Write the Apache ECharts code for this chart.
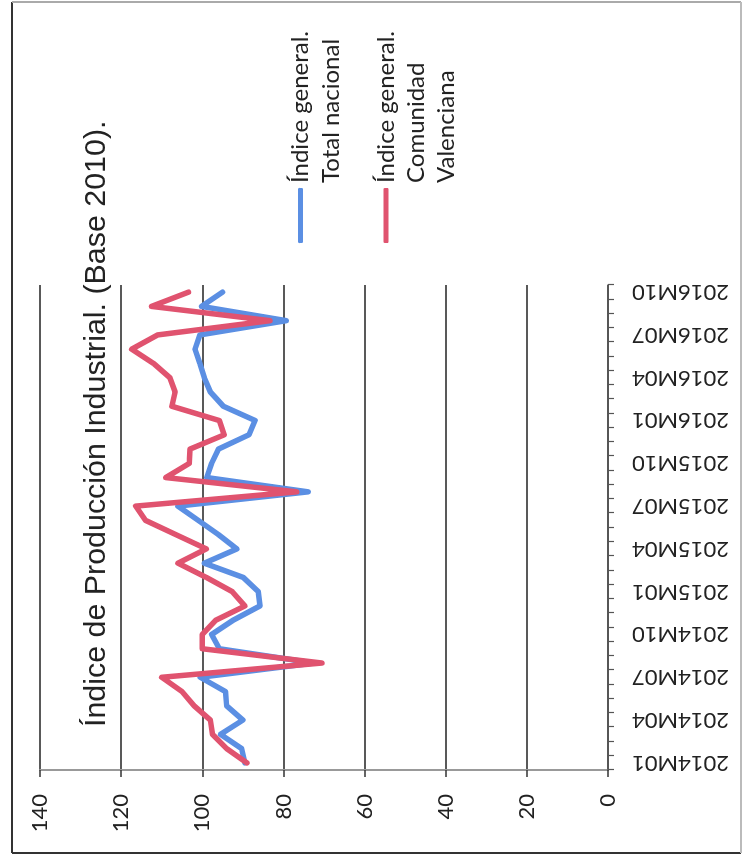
<!DOCTYPE html>
<html>
<head>
<meta charset="utf-8">
<script src="https://cdn.jsdelivr.net/npm/echarts@6/dist/echarts.min.js"></script>
<style>
  html, body { margin: 0; padding: 0; background: #fff; overflow: hidden; width: 744px; height: 863px; }
  #chart {
    position: absolute; left: 0; top: 0;
    width: 863px; height: 744px;
    transform-origin: 0 0;
    transform: translate(0px, 863px) rotate(-90deg);
    background: #fff;
  }
</style>
</head>
<body>
<div id="chart"></div>
<script>
const categories = [
  '2014M01','2014M02','2014M03','2014M04','2014M05','2014M06','2014M07','2014M08','2014M09','2014M10','2014M11','2014M12',
  '2015M01','2015M02','2015M03','2015M04','2015M05','2015M06','2015M07','2015M08','2015M09','2015M10','2015M11','2015M12',
  '2016M01','2016M02','2016M03','2016M04','2016M05','2016M06','2016M07','2016M08','2016M09','2016M10'
];
const totalNacional = [89.5, 90.3, 95.5, 90, 94, 94.3, 100.5, 72.5, 95.8, 97.7, 92.4, 85.8, 86.2, 89.9, 99.5, 91.5, 96, 101, 106, 73.9, 98.9, 97.7, 96, 88.5, 87, 94.8, 98, 99.5, 100.6, 101.8, 100.6, 79.3, 100.2, 95];
const comunidadValenciana = [89, 94, 97.5, 98, 102, 105, 110, 70.5, 100, 100, 96.7, 89.5, 92.6, 99, 106, 99, 106.5, 114, 116.4, 76.7, 109, 103.2, 103, 94.6, 95.8, 107.5, 106.7, 108, 112, 117.4, 111, 83.3, 112.5, 103.4];
const valueMin = 0, valueMax = 140, valueStep = 20;
const titleText = 'Índice de Producción Industrial. (Base 2010).';
const seriesNames = ['Índice general. Total nacional', 'Índice general. Comunidad Valenciana'];
const legendLines = {
  'Índice general. Total nacional': ['Índice general.', 'Total nacional'],
  'Índice general. Comunidad Valenciana': ['Índice general.', 'Comunidad', 'Valenciana']
};

const BLUE = '#5b8fe3';
const RED = '#e0536f';
const FONT = 'Lato';

function legendFormatter(name) {
  const lines = legendLines[name];
  // leading blank lines keep the first line centred on the legend line
  return '\n'.repeat(lines.length - 1) + lines.join('\n');
}

const chart = echarts.init(document.getElementById('chart'));
chart.setOption({
  backgroundColor: '#fff',
  animation: false,
  title: {
    text: titleText,
    left: 136, top: 82,
    padding: 0,
    textStyle: { fontFamily: 'Liberation Sans', fontSize: 30.4, fontWeight: 'normal', color: '#222' }
  },
  graphic: [
    { type: 'line', silent: true, shape: { x1: 10, y1: 12, x2: 861, y2: 12 }, style: { stroke: '#333', lineWidth: 2 } },
    { type: 'line', silent: true, shape: { x1: 10, y1: 12, x2: 10, y2: 741 }, style: { stroke: '#333', lineWidth: 2 } },
    { type: 'line', silent: true, shape: { x1: 861, y1: 12, x2: 861, y2: 741 }, style: { stroke: '#aaa', lineWidth: 2 } },
    { type: 'line', silent: true, shape: { x1: 10, y1: 741, x2: 861, y2: 741 }, style: { stroke: '#bbb', lineWidth: 2 } }
  ],
  legend: [
    {
      data: [seriesNames[0]], orient: 'vertical', left: 620, top: 254, padding: 0,
      icon: 'roundRect', itemWidth: 55, itemHeight: 5,
      itemStyle: { borderWidth: 0 },
      formatter: legendFormatter,
      textStyle: { fontFamily: FONT, fontSize: 24, lineHeight: 31, color: '#222' }
    },
    {
      data: [seriesNames[1]], orient: 'vertical', left: 620, top: 311, padding: 0,
      icon: 'roundRect', itemWidth: 55, itemHeight: 5,
      itemStyle: { borderWidth: 0 },
      formatter: legendFormatter,
      textStyle: { fontFamily: FONT, fontSize: 24, lineHeight: 30, color: '#222' }
    }
  ],
  grid: { left: 93, top: 40, width: 485, height: 568, containLabel: false },
  xAxis: {
    type: 'category',
    data: categories,
    boundaryGap: true,
    axisLine: { show: true, lineStyle: { color: '#555', width: 1.5 } },
    axisTick: { show: true, interval: 0, length: 6, lineStyle: { color: '#555', width: 1.2 } },
    axisLabel: { interval: 2, rotate: 90, margin: 24, fontFamily: FONT, fontSize: 22, color: '#222' },
    splitLine: { show: false }
  },
  yAxis: {
    type: 'value',
    min: valueMin, max: valueMax, interval: valueStep,
    axisLine: { show: true, lineStyle: { color: '#999', width: 2 } },
    axisTick: { show: true, length: 7, lineStyle: { color: '#333', width: 1.5 } },
    axisLabel: { margin: 24, fontFamily: FONT, fontSize: 22, color: '#222' },
    splitLine: { show: true, lineStyle: { color: '#222', width: 1.5 } }
  },
  series: [
    {
      name: seriesNames[0], type: 'line', data: totalNacional,
      symbol: 'none', color: BLUE, z: 3,
      lineStyle: { color: BLUE, width: 5.5, cap: 'round', join: 'round' }
    },
    {
      name: seriesNames[1], type: 'line', data: comunidadValenciana,
      symbol: 'none', color: RED, z: 4,
      lineStyle: { color: RED, width: 5.5, cap: 'round', join: 'round' }
    }
  ]
});
</script>
</body>
</html>
